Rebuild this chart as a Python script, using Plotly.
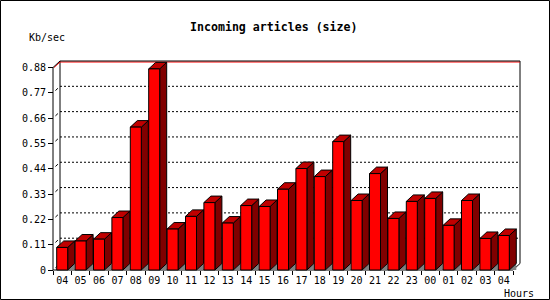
import plotly.graph_objects as go

# ---------------- data ----------------
hours = ["04", "05", "06", "07", "08", "09", "10", "11", "12", "13", "14", "15",
         "16", "17", "18", "19", "20", "21", "22", "23", "00", "01", "02", "03", "04"]
kb_per_sec = [0.098, 0.126, 0.134, 0.228, 0.621, 0.874, 0.178, 0.233, 0.293, 0.204,
              0.280, 0.276, 0.351, 0.441, 0.406, 0.558, 0.302, 0.419, 0.224, 0.298,
              0.311, 0.194, 0.302, 0.137, 0.150]
y_ticks = [0, 0.11, 0.22, 0.33, 0.44, 0.55, 0.66, 0.77, 0.88]
y_tick_labels = ["0", "0.11", "0.22", "0.33", "0.44", "0.55", "0.66", "0.77", "0.88"]
title_text = "Incoming articles (size)"
y_title = "Kb/sec"
x_title = "Hours"

# ---------------- geometry / style ----------------
W, H = 550, 300
L, R, T, B = 45, 525, 55, 275          # plot area in px
X0, Y0 = 53, 270                        # front origin in px
PXC = 18.4                              # px per category
PXU = 230.1                             # px per unit value
DEPTH_X, DEPTH_Y = 7.0, 6.5             # 3D depth in px
BAR_W = 11.0 / PXC
DXU = DEPTH_X / PXC
DYU = DEPTH_Y / PXU
FONT = "DejaVu Sans Mono"

n = len(hours)
x_left = -0.5
x_right = n - 0.5
ymax = y_ticks[-1]

def px_to_paper(px, py):
    return (px - L) / (R - L), (B - py) / (B - T)

fig = go.Figure()

def add_lines(xs, ys, color="black", width=1, dash=None):
    fig.add_trace(go.Scatter(x=xs, y=ys, mode="lines", hoverinfo="skip",
                             showlegend=False,
                             line=dict(color=color, width=width, dash=dash)))

# back-wall grid lines
gx, gy = [], []
for v in y_ticks[1:-1]:
    gx += [x_left + DXU, x_right + DXU, None]
    gy += [v + DYU, v + DYU, None]
add_lines(gx, gy, dash="2px,2px")

# small diagonal marks between front axis and back wall
mx, my = [], []
for v in y_ticks[:-1]:
    mx += [x_left + 0.35 * DXU, x_left + 0.7 * DXU, None]
    my += [v + 0.35 * DYU, v + 0.7 * DYU, None]
add_lines(mx, my)

# back wall frame
add_lines([x_left + DXU, x_left + DXU], [DYU, ymax + DYU])
add_lines([x_right + DXU, x_right + DXU], [DYU, ymax + DYU])
# floor front line + right diagonal
add_lines([x_left, x_right, x_right + DXU], [0, 0, DYU])
# front axis line
add_lines([x_left, x_left], [0, ymax])
# top: red line just below black line
off = 1.0 / PXU
add_lines([x_left + 0.15 * DXU, x_left + DXU, x_right + DXU],
          [ymax + 0.15 * DYU - off, ymax + DYU - off, ymax + DYU - off], color="#ff0000")
add_lines([x_left, x_left + DXU, x_right + DXU],
          [ymax, ymax + DYU, ymax + DYU])

# bars as 3D polygons
tri_x, tri_y, side_x, side_y, top_x, top_y, front_x, front_y = ([] for _ in range(8))
for i, v in enumerate(kb_per_sec):
    xl = i - BAR_W / 2
    xr = i + BAR_W / 2
    tri_x += [xr, xr + DXU, xr + DXU, xr, None]
    tri_y += [0, 0, DYU, 0, None]
    side_x += [xr, xr + DXU, xr + DXU, xr, xr, None]
    side_y += [0, DYU, v + DYU, v, 0, None]
    top_x += [xl, xl + DXU, xr + DXU, xr, xl, None]
    top_y += [v, v + DYU, v + DYU, v, v, None]
    front_x += [xl, xl, xr, xr, xl, None]
    front_y += [0, v, v, 0, 0, None]

def add_poly(xs, ys, fill, lw=1):
    fig.add_trace(go.Scatter(x=xs, y=ys, mode="lines", fill="toself",
                             fillcolor=fill, hoverinfo="skip", showlegend=False,
                             line=dict(color="black", width=lw)))

add_poly(tri_x, tri_y, "#808080", lw=0)
add_poly(side_x, side_y, "#800000")
add_poly(top_x, top_y, "#c00000")
add_poly(front_x, front_y, "#ff0000")

# ---------------- layout ----------------
xr0 = x_left - (X0 - L) / PXC
xr1 = x_left + (R - X0) / PXC
yr0 = -(B - Y0) / PXU
yr1 = (Y0 - T) / PXU

fig.update_layout(
    width=W, height=H,
    margin=dict(l=L, r=W - R, t=T, b=H - B, pad=0),
    paper_bgcolor="white", plot_bgcolor="white",
    showlegend=False,
    font=dict(family=FONT, size=10, color="black"),
    xaxis=dict(range=[xr0, xr1], tickvals=list(range(n)), ticktext=hours,
               ticks="", showgrid=False, zeroline=False, showline=False,
               anchor="free", position=(B - Y0) / (B - T),
               ticklabelstandoff=3,
               tickfont=dict(family=FONT, size=10, color="black"),
               minor=dict(tickvals=[i - 0.5 for i in range(n + 1)], ticks="outside",
                          ticklen=4, tickwidth=1, tickcolor="black", showgrid=False),
               fixedrange=True),
    yaxis=dict(range=[yr0, yr1], tickvals=y_ticks, ticktext=y_tick_labels,
               ticks="outside", ticklen=5, tickwidth=1, tickcolor="black",
               showgrid=False, zeroline=False, showline=False,
               anchor="free", position=(X0 - L) / (R - L),
               tickfont=dict(family=FONT, size=10, color="black"),
               fixedrange=True),
)

tx, ty = px_to_paper(274, 27)
kx, ky = px_to_paper(47, 37)
hx, hy = px_to_paper(519, 293)
fig.add_annotation(text="<b>" + title_text + "</b>", x=tx, y=ty, xref="paper", yref="paper",
                   showarrow=False, xanchor="center", yanchor="middle",
                   font=dict(family=FONT, size=11.6, color="black"))
fig.add_annotation(text=y_title, x=kx, y=ky, xref="paper", yref="paper",
                   showarrow=False, xanchor="center", yanchor="middle",
                   font=dict(family=FONT, size=10, color="black"))
fig.add_annotation(text=x_title, x=hx, y=hy, xref="paper", yref="paper",
                   showarrow=False, xanchor="center", yanchor="middle",
                   font=dict(family=FONT, size=10, color="black"))

# outer border
bx0, by0 = px_to_paper(0.5, 0.5)
bx1, by1 = px_to_paper(549.5, 299.5)
fig.add_shape(type="rect", xref="paper", yref="paper", x0=bx0, y0=by0, x1=bx1, y1=by1,
              line=dict(color="black", width=1), fillcolor="rgba(0,0,0,0)")

fig.write_html("out.html")
